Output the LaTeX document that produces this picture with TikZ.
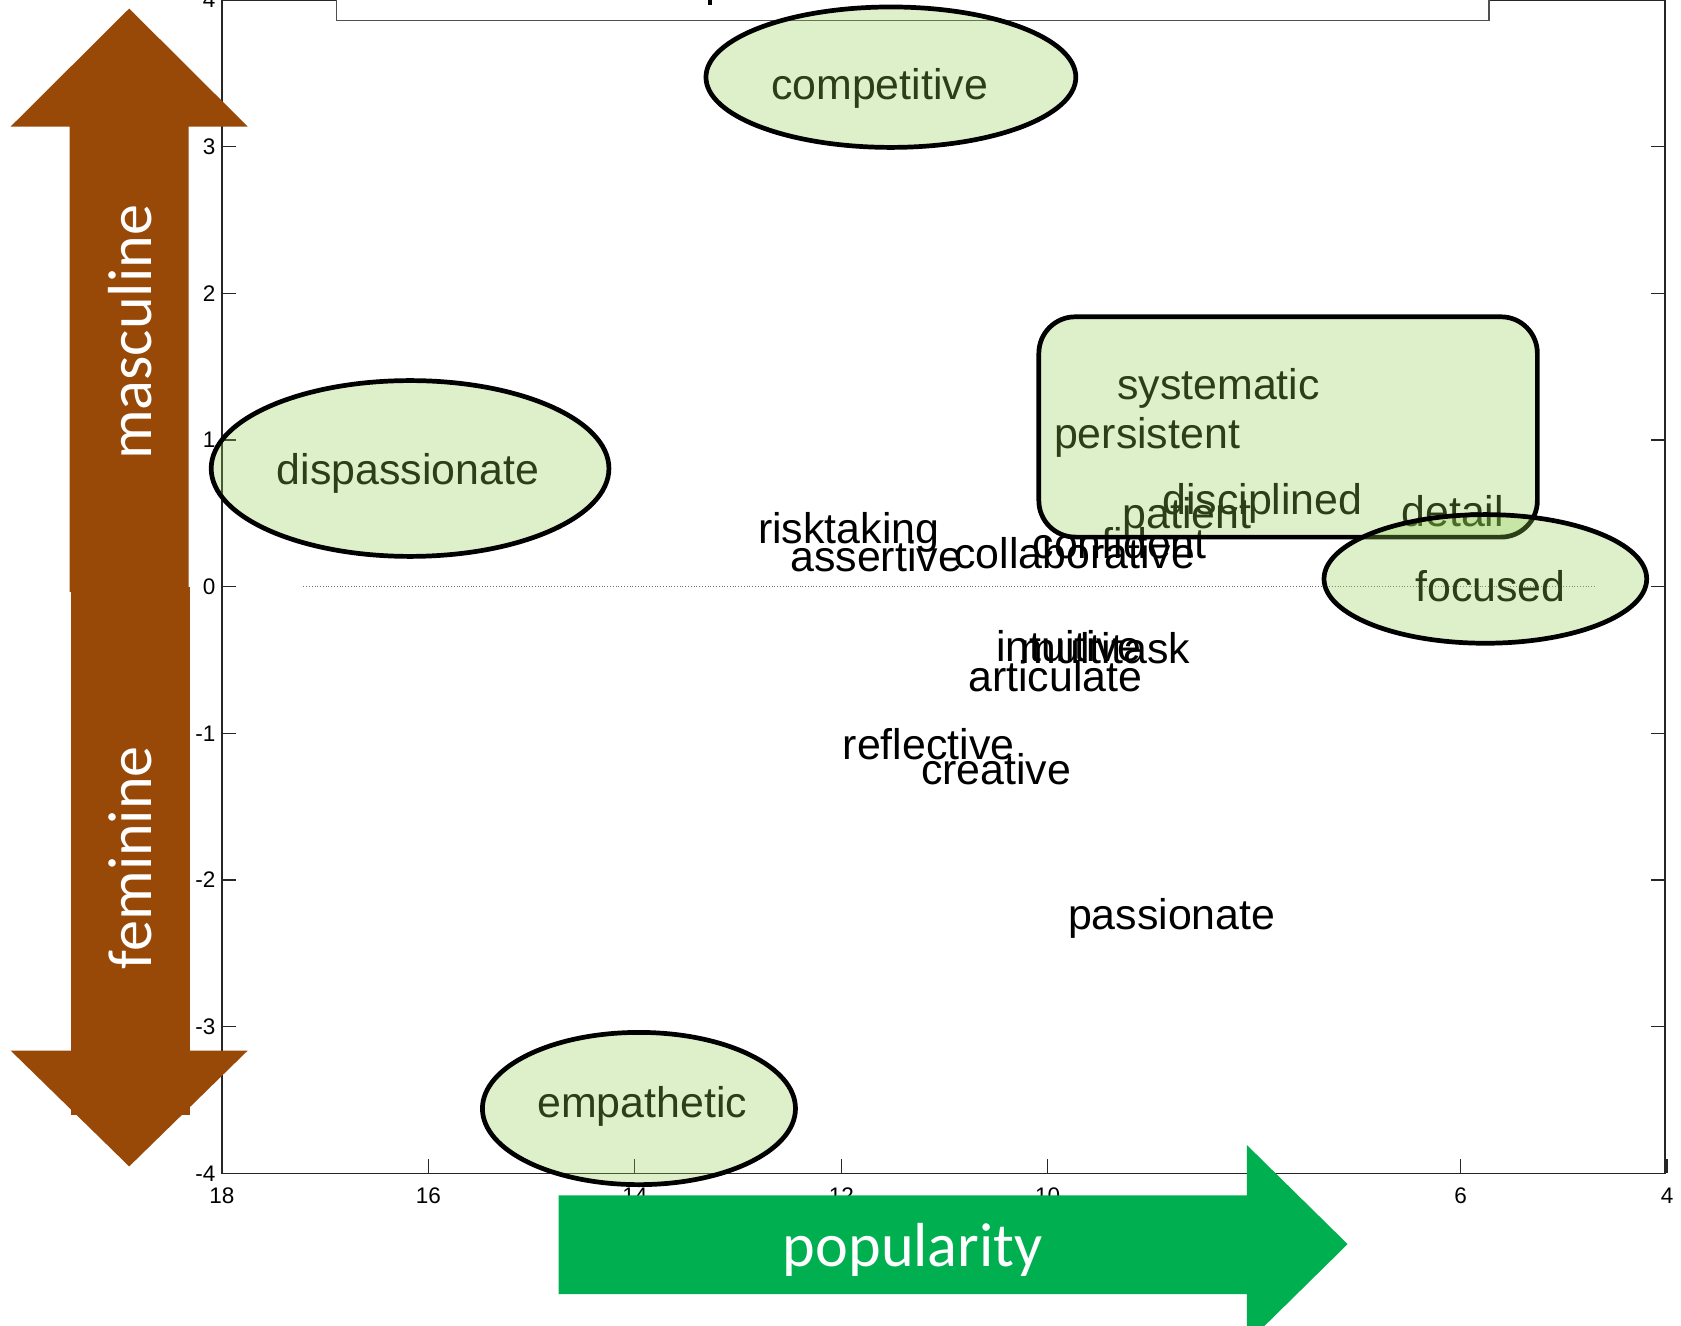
\documentclass[tikz,border=0pt]{standalone}
\usepackage{fontspec}
\setmainfont{Liberation Sans}
\newfontfamily\calibrifont{Carlito}
\definecolor{brownarrow}{HTML}{984807}
\definecolor{greenarrow}{HTML}{00B050}
\definecolor{hilite}{HTML}{92D050}
\definecolor{boxgray}{HTML}{505050}
\begin{document}
\begin{tikzpicture}[x=1pt,y=-1pt,
  word/.style={anchor=base west, inner sep=0pt, font=\fontsize{40}{48}\selectfont, text=black},
  ticklab/.style={inner sep=0pt, font=\fontsize{21}{25}\selectfont, text=black},
  blob/.style={fill=hilite, fill opacity=0.3, draw=black, line width=4.4pt},
  axisline/.style={draw=black!85, line width=1.1pt},
  bigarrowtext/.style={text=white, inner sep=0pt, font=\calibrifont\fontsize{58}{70}\selectfont, anchor=base}
]
\useasboundingbox (0,0) rectangle (1568,1236);
\fill[white] (0,0) rectangle (1568,1236);

% axes box
\draw[axisline] (207,0.8) -- (207,1094.5) -- (1553,1094.5) -- (1553,0.8) -- cycle;
\foreach \v [count=\i] in {4,3,2,1,0,-1,-2,-3,-4} {
  \pgfmathsetmacro\yy{547.3-136.8*\v}
  \draw[axisline] (207,\yy) -- (220,\yy);
  \draw[axisline] (1540,\yy) -- (1553,\yy);
  \node[ticklab, anchor=east] (yl\i) at (201,\yy) {\v};
}
\foreach \v [count=\i] in {18,16,...,4} {
  \pgfmathsetmacro\xx{207+96.2857*(18-\v)}
  \draw[axisline] (\xx,1094.5) -- (\xx,1081.5);
  \node[ticklab, anchor=base] (xl\i) at (\xx,1123) {\v};
}
% zero line
\draw[black!55, line width=0.6pt, dotted] (283,547.3) -- (1487,547.3);

% title box (cut off at top)
\draw[draw=boxgray, fill=white, line width=1.6pt] (314,-20) rectangle (1389,19);
\fill[black] (660.5,0) rectangle (664,5);

% words
\node[word] (competitive) at (719,93) {competitive};
\node[word] (dispassionate) at (258,452) {dispassionate};
\node[word] (systematic) at (1042,373) {systematic};
\node[word] (persistent) at (983,418) {persistent};
\node[word] (disciplined) at (1084,480) {disciplined};
\node[word] (patient) at (1047,493) {patient};
\node[word] (detail) at (1307,491) {detail};
\node[word] (focused) at (1320,561) {focused};
\node[word] (risktaking) at (707,507) {risktaking};
\node[word] (assertive) at (737,533) {assertive};
\node[word] (collaborative) at (890,530) {collaborative};
\node[word] (confident) at (963,521) {confident};
\node[word] (intuitive) at (929,617) {intuitive};
\node[word] (multitask) at (952,619) {multitask};
\node[word] (articulate) at (903,645) {articulate};
\node[word] (reflective) at (786,708) {reflective};
\node[word] (creative) at (859,732) {creative};
\node[word] (passionate) at (996,867) {passionate};
\node[word] (empathetic) at (501,1042) {empathetic};

% highlight shapes
\draw[blob] (831,72) ellipse [x radius=172.5pt, y radius=65.5pt];
\draw[blob] (382.5,437) ellipse [x radius=185.5pt, y radius=82pt];
\draw[blob] (596,1034) ellipse [x radius=146pt, y radius=71pt];
\draw[blob, rounded corners=34pt] (969,295.5) rectangle (1434,501);
\draw[blob] (1385.5,540) ellipse [x radius=150.5pt, y radius=60pt];

% brown double arrow
\fill[brownarrow] (65,552) -- (65,118) -- (10,118) -- (120.5,8) -- (231,118) -- (176,118) -- (176,552) -- cycle;
\fill[brownarrow] (66,548) rectangle (177,1040);
\fill[brownarrow] (10,980) -- (231,980) -- (120.5,1088) -- cycle;
\node[bigarrowtext, rotate=90] (masculine) at (141,310) {masculine};
\node[bigarrowtext, rotate=90] (feminine) at (141,800) {feminine};

% green arrow
\fill[greenarrow] (521,1115) -- (1163,1115) -- (1163,1068) -- (1257,1160.5) -- (1163,1253) -- (1163,1207) -- (521,1207) -- cycle;
\node[bigarrowtext] (popularity) at (851.5,1181) {popularity};
\end{tikzpicture}
\end{document}
